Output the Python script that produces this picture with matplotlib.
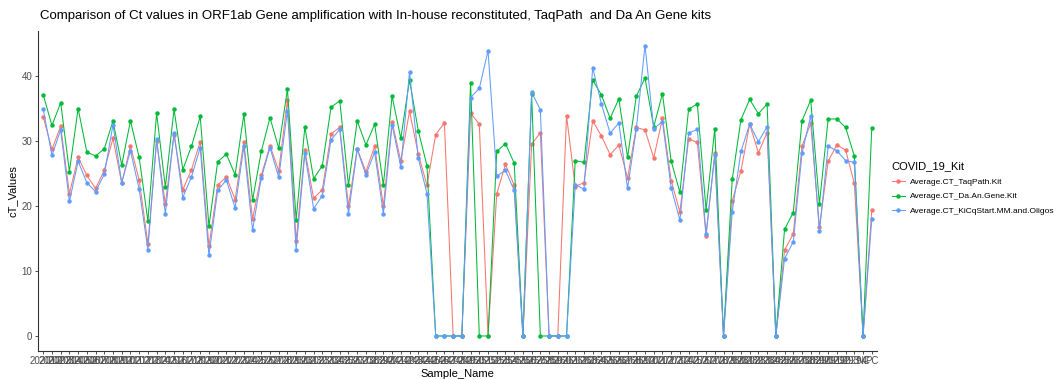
import matplotlib
matplotlib.use("Agg")
import matplotlib.pyplot as plt

plt.rcParams['font.family'] = ['Liberation Sans', 'DejaVu Sans']

# sample names (tick labels), last two are controls
sample_names = [
    "20201", "20202", "20203", "20204", "20205", "20206", "20207", "20208",
    "20209", "20210", "20211", "20212", "20213", "20214", "20215", "20216",
    "20217", "20218", "20219", "20220", "20221", "20222", "20223", "20224",
    "20225", "20226", "20227", "20228", "20229", "20230", "20231", "20232",
    "20233", "20234", "20235", "20236", "20237", "20238", "20239", "20240",
    "20241", "20242", "20243", "20244", "20245", "20246", "20247", "20248",
    "20249", "20250", "20251", "20252", "20253", "20254", "20255", "20256",
    "20257", "20258", "20259", "20260", "20261", "20262", "20263", "20264",
    "20265", "20266", "20267", "20268", "20269", "20270", "20271", "20272",
    "20273", "20274", "20275", "20276", "20277", "20278", "20279", "20280",
    "20281", "20282", "20283", "20284", "20285", "20286", "20287", "20288",
    "20289", "20290", "20291", "20292", "20293", "20294", "NC", "PC",
]

taqpath = [
    33.7, 28.7, 32.3, 21.9, 27.5, 24.7, 22.7, 25.5, 30.4, 23.5,
    29.2, 24.0, 14.2, 30.0, 20.3, 31.0, 22.5, 25.6, 29.9, 13.8,
    23.2, 24.5, 21.0, 29.9, 18.0, 24.7, 29.3, 25.4, 36.3, 14.6,
    28.6, 21.2, 22.5, 31.1, 32.1, 20.0, 28.8, 25.3, 29.2, 20.0,
    33.0, 26.9, 34.6, 28.0, 23.2, 31.0, 32.8, 0.0, 0.0, 34.3,
    32.6, 0.0, 21.9, 26.4, 23.2, 0.0, 29.5, 31.3, 0.0, 0.0,
    33.9, 23.0, 23.6, 33.1, 30.8, 27.9, 29.4, 24.3, 32.1, 31.7,
    27.4, 33.5, 23.9, 19.1, 30.3, 29.8, 15.4, 28.1, 0.0, 20.8,
    25.4, 32.6, 28.2, 31.3, 0.0, 13.2, 15.7, 29.2, 32.7, 16.7,
    26.9, 29.4, 28.6, 23.5, 0.0, 19.4,
]

da_an_gene = [
    37.1, 32.4, 35.9, 25.3, 35.0, 28.3, 27.7, 28.8, 33.1, 26.3,
    33.1, 27.5, 17.7, 34.3, 22.9, 34.9, 25.6, 29.2, 33.8, 16.9,
    26.8, 28.0, 24.8, 34.1, 20.9, 28.4, 33.6, 28.9, 38.0, 17.9,
    32.2, 24.2, 26.2, 35.2, 36.2, 23.2, 33.1, 29.4, 32.6, 23.2,
    36.9, 30.4, 39.4, 31.6, 26.2, 0.0, 0.0, 0.0, 0.0, 39.0,
    0.0, 0.0, 28.4, 29.6, 26.6, 0.0, 37.2, 0.0, 0.0, 0.0,
    0.0, 27.0, 26.7, 39.4, 37.1, 33.5, 36.5, 27.5, 36.9, 39.7,
    32.2, 37.3, 26.9, 22.1, 34.9, 35.7, 19.4, 31.9, 0.0, 24.1,
    33.3, 36.4, 34.2, 35.7, 0.0, 16.4, 19.0, 33.1, 36.3, 20.3,
    33.4, 33.4, 32.1, 27.7, 0.0, 32.0,
]

kicqstart = [
    34.9, 27.8, 31.7, 20.7, 26.9, 23.6, 22.2, 24.9, 32.5, 23.6,
    28.5, 22.6, 13.3, 30.3, 18.8, 31.3, 21.3, 24.5, 29.0, 12.4,
    22.4, 24.0, 19.7, 29.2, 16.3, 24.3, 29.0, 24.4, 34.7, 13.3,
    28.1, 19.6, 21.6, 30.2, 31.8, 18.8, 28.7, 24.8, 28.3, 18.8,
    32.5, 26.0, 40.7, 27.4, 21.9, 0.0, 0.0, 0.0, 0.0, 36.7,
    38.1, 43.9, 24.6, 25.5, 22.4, 0.0, 37.5, 34.8, 0.0, 0.0,
    0.0, 23.3, 22.6, 41.3, 35.7, 31.2, 32.8, 22.7, 31.8, 44.7,
    31.9, 33.0, 22.8, 17.8, 31.2, 31.8, 15.7, 27.8, 0.0, 19.1,
    28.4, 32.6, 29.9, 32.2, 0.0, 11.9, 14.5, 28.1, 33.9, 16.1,
    29.2, 28.5, 27.0, 26.7, 0.0, 18.0,
]

series = [
    ("Average.CT_TaqPath.Kit", taqpath, "#F8766D"),
    ("Average.CT_Da.An.Gene.Kit", da_an_gene, "#00BA38"),
    ("Average.CT_KiCqStart.MM.and.Oligos", kicqstart, "#619CFF"),
]

fig = plt.figure(figsize=(10.63, 3.79), dpi=100)
ax = fig.add_axes([38 / 1063, 28.5 / 379, (877 - 38) / 1063, (350.5 - 31) / 379])

x = list(range(len(sample_names)))
for name, vals, col in series:
    ax.plot(x, vals, color=col, lw=0.75, marker='o', ms=3.2, mew=0, label=name)

ax.set_xlim(-0.6, len(sample_names) - 1 + 0.6)
ax.set_ylim(-2.235, 46.935)
ax.set_yticks([0, 10, 20, 30, 40])
ax.set_xticks(x)
ax.set_xticklabels(sample_names)

for s in ['top', 'right']:
    ax.spines[s].set_visible(False)
for s in ['left', 'bottom']:
    ax.spines[s].set_color('#333333')
    ax.spines[s].set_linewidth(0.8)
ax.tick_params(axis='both', colors='#333333', length=2.5, width=0.6,
               labelcolor='#4D4D4D', labelsize=7, pad=1.5)

ax.set_xlabel("Sample_Name", fontsize=8, labelpad=2)
ax.set_ylabel("cT_Values", fontsize=8, labelpad=3)
ax.set_title("Comparison of Ct values in ORF1ab Gene amplification with In-house reconstituted, TaqPath  and Da An Gene kits",
             fontsize=9.5, loc='left', x=0.002, pad=9)

leg = fig.legend(loc='upper left', bbox_to_anchor=(884 / 1063, 1 - 154 / 379), frameon=False,
                 title="COVID_19_Kit", fontsize=6.0, title_fontsize=8,
                 handlelength=1.6, handletextpad=0.6, labelspacing=0.8)
leg._legend_box.align = "left"

fig.savefig("out.png", dpi=100)
